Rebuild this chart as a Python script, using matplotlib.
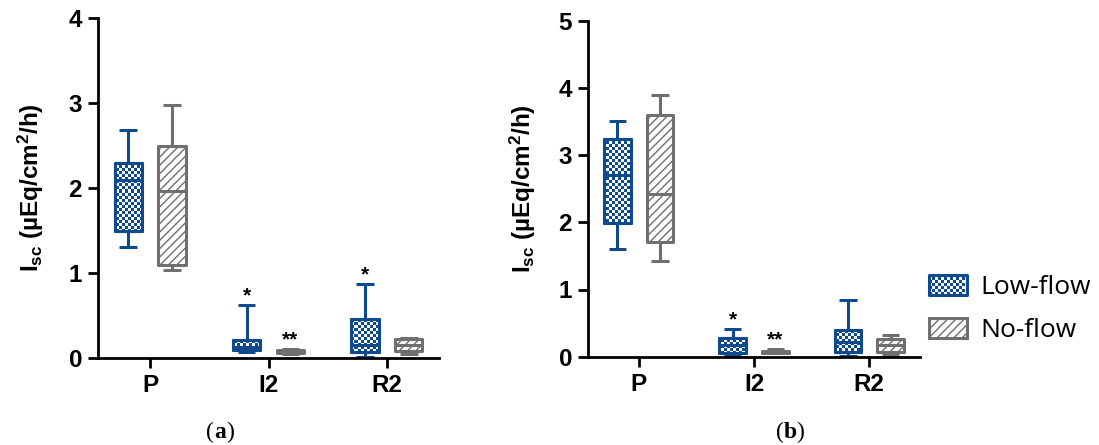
import numpy as np
import matplotlib
matplotlib.use("Agg")
import matplotlib.pyplot as plt
from matplotlib.patches import Patch, Rectangle, PathPatch
from matplotlib.offsetbox import TextArea, HPacker, AnchoredOffsetbox

plt.rcParams["font.family"] = ["Liberation Sans", "DejaVu Sans"]
plt.rcParams["mathtext.fontset"] = "custom"
plt.rcParams["mathtext.bf"] = "Liberation Sans:bold"
plt.rcParams["mathtext.rm"] = "Liberation Sans:bold"
plt.rcParams["mathtext.default"] = "bf"

# data
groups = ["P", "I2", "R2"]
series = ["Low-flow", "No-flow"]

# panel (a)
low_a_whislo = [1.31, 0.07, 0.01]
low_a_q1 = [1.49, 0.09, 0.07]
low_a_med = [2.10, 0.13, 0.15]
low_a_q3 = [2.29, 0.21, 0.46]
low_a_whishi = [2.68, 0.62, 0.87]

no_a_whislo = [1.03, 0.05, 0.05]
no_a_q1 = [1.09, 0.06, 0.08]
no_a_med = [1.96, 0.08, 0.15]
no_a_q3 = [2.50, 0.09, 0.22]
no_a_whishi = [2.98, 0.11, 0.24]

# panel (b)
low_b_whislo = [1.60, 0.03, 0.01]
low_b_q1 = [1.99, 0.06, 0.07]
low_b_med = [2.71, 0.17, 0.22]
low_b_q3 = [3.24, 0.28, 0.39]
low_b_whishi = [3.51, 0.41, 0.85]

no_b_whislo = [1.43, 0.05, 0.02]
no_b_q1 = [1.70, 0.06, 0.07]
no_b_med = [2.42, 0.08, 0.17]
no_b_q3 = [3.60, 0.09, 0.26]
no_b_whishi = [3.89, 0.11, 0.32]

# significance marks: (group, series, text)
stars_a = [("I2", "Low-flow", "*"), ("I2", "No-flow", "**"), ("R2", "Low-flow", "*")]
stars_b = [("I2", "Low-flow", "*"), ("I2", "No-flow", "**")]

y_max_a = 4
y_max_b = 5

BLUE = "#0f4a8c"
GREY = "#6f6f6f"
LW = 2.2
CELL_PX = 3.0
FS = 17.5


def make_stats(whislo, q1, med, q3, whishi):
    return [dict(whislo=a, q1=b, med=c, q3=d, whishi=e, fliers=[])
            for a, b, c, d, e in zip(whislo, q1, med, q3, whishi)]


def checker_rgba(nx, ny, color):
    rgb = np.array(matplotlib.colors.to_rgb(color))
    grid = np.add.outer(np.arange(ny), np.arange(nx)) % 2
    img = np.ones((ny, nx, 3))
    img[grid == 0] = rgb
    return img


def draw_panel(ax, low, no, ymax, stars):
    pos = np.arange(len(groups))
    off = 0.185
    width = 0.23
    boxes = {}
    for stats, color, dx, name in [(low, BLUE, -off, "Low-flow"), (no, GREY, off, "No-flow")]:
        line = dict(color=color, linewidth=LW, solid_capstyle="butt")
        art = ax.bxp(stats, positions=pos + dx, widths=width, capwidths=0.15,
                     patch_artist=True, showfliers=False,
                     boxprops=dict(facecolor="white", edgecolor=color, linewidth=LW,
                                   joinstyle="round", hatch="////" if name == "No-flow" else None),
                     whiskerprops=line, capprops=line,
                     medianprops=dict(color=color, linewidth=LW, zorder=3),
                     manage_ticks=False)
        boxes[name] = (art, pos + dx)

    ax.set_xlim(-0.44, 2.44)
    ax.set_ylim(0, ymax)

    # checker fill for low-flow boxes
    nx = int(ax.bbox.width / CELL_PX)
    ny = int(ax.bbox.height / CELL_PX)
    img = checker_rgba(nx, ny, BLUE)
    for b in boxes["Low-flow"][0]["boxes"]:
        im = ax.imshow(img, extent=(-0.44, 2.44, 0, ymax), aspect="auto",
                       interpolation="nearest", zorder=2.1)
        im.set_clip_path(b)
        ax.add_patch(PathPatch(b.get_path(), facecolor="none", edgecolor=BLUE,
                               linewidth=LW, joinstyle="round", zorder=2.2))
    ax.set_xlim(-0.44, 2.44)
    ax.set_ylim(0, ymax)

    for g, s, txt in stars:
        i = groups.index(g)
        stats = low if s == "Low-flow" else no
        x = boxes[s][1][i]
        ax.annotate(txt, (x, stats[i]["whishi"]), xytext=(0, 2.5), textcoords="offset points",
                    ha="center", va="baseline", fontsize=15, fontweight="bold")

    ax.spines[["top", "right"]].set_visible(False)
    ax.spines[["left", "bottom"]].set_linewidth(2)
    ax.tick_params(width=2, length=7.5, labelsize=FS, pad=4)
    ax.set_xticks(pos)
    ax.set_xticklabels(groups, fontweight="bold")
    ax.set_yticks(range(ymax + 1))
    for lbl in ax.get_yticklabels():
        lbl.set_fontweight("bold")
    ax.set_ylabel(r"$I_{sc}$ (µEq/cm$^{2}$/h)", fontsize=FS, fontweight="bold")


class CheckerHandler:
    def legend_artist(self, legend, orig_handle, fontsize, handlebox):
        x0, y0 = handlebox.xdescent, handlebox.ydescent
        w, h = handlebox.width, handlebox.height
        tr = handlebox.get_transform()
        handlebox.add_artist(Rectangle((-x0, -y0), w, h, facecolor="white", edgecolor="none", transform=tr))
        c = CELL_PX * 72 / 100
        nx, ny = int(w / c), int(h / c)
        for i in range(ny):
            for j in range(nx):
                if (i + j) % 2 == 0:
                    handlebox.add_artist(Rectangle((-x0 + j * c, -y0 + i * c), c, c,
                                                   facecolor=BLUE, edgecolor="none", transform=tr))
        edge = Rectangle((-x0, -y0), w, h, facecolor="none", edgecolor=BLUE,
                         linewidth=LW, joinstyle="round", transform=tr)
        handlebox.add_artist(edge)
        return edge


fig = plt.figure(figsize=(10.99, 4.45), dpi=100)
ax_a = fig.add_axes([98 / 1099, 87 / 445, 341 / 1099, 340 / 445])
ax_b = fig.add_axes([588 / 1099, 88.3 / 445, 332 / 1099, 336 / 445])

draw_panel(ax_a, make_stats(low_a_whislo, low_a_q1, low_a_med, low_a_q3, low_a_whishi),
           make_stats(no_a_whislo, no_a_q1, no_a_med, no_a_q3, no_a_whishi), y_max_a, stars_a)
draw_panel(ax_b, make_stats(low_b_whislo, low_b_q1, low_b_med, low_b_q3, low_b_whishi),
           make_stats(no_b_whislo, no_b_q1, no_b_med, no_b_q3, no_b_whishi), y_max_b, stars_b)
ax_a.yaxis.set_label_coords(-0.152, 0.5)
ax_b.yaxis.set_label_coords(-0.152, 0.5)

low_handle = Patch(label="Low-flow")
no_handle = Patch(facecolor="white", edgecolor=GREY, hatch="////", linewidth=LW, label="No-flow")
fig.legend([low_handle, no_handle], series, handler_map={low_handle: CheckerHandler()},
           loc="center left", bbox_to_anchor=(929 / 1099, 1 - 309 / 445), frameon=False,
           borderaxespad=0, borderpad=0,
           prop={"family": "Open Sans", "size": 19}, handlelength=1.44, handleheight=0.8,
           handletextpad=0.5, labelspacing=0.65)

for label, xc in [("a", 220), ("b", 790)]:
    parts = [TextArea("(", textprops=dict(family="Liberation Serif", size=17)),
             TextArea(label, textprops=dict(family="Liberation Serif", size=17, weight="bold")),
             TextArea(")", textprops=dict(family="Liberation Serif", size=17))]
    box = AnchoredOffsetbox(loc="center", child=HPacker(children=parts, pad=0, sep=0),
                            frameon=False, bbox_to_anchor=(xc / 1099, 1 - 432 / 445),
                            bbox_transform=fig.transFigure, borderpad=0, pad=0)
    fig.add_artist(box)

fig.savefig("out.png", dpi=100)
